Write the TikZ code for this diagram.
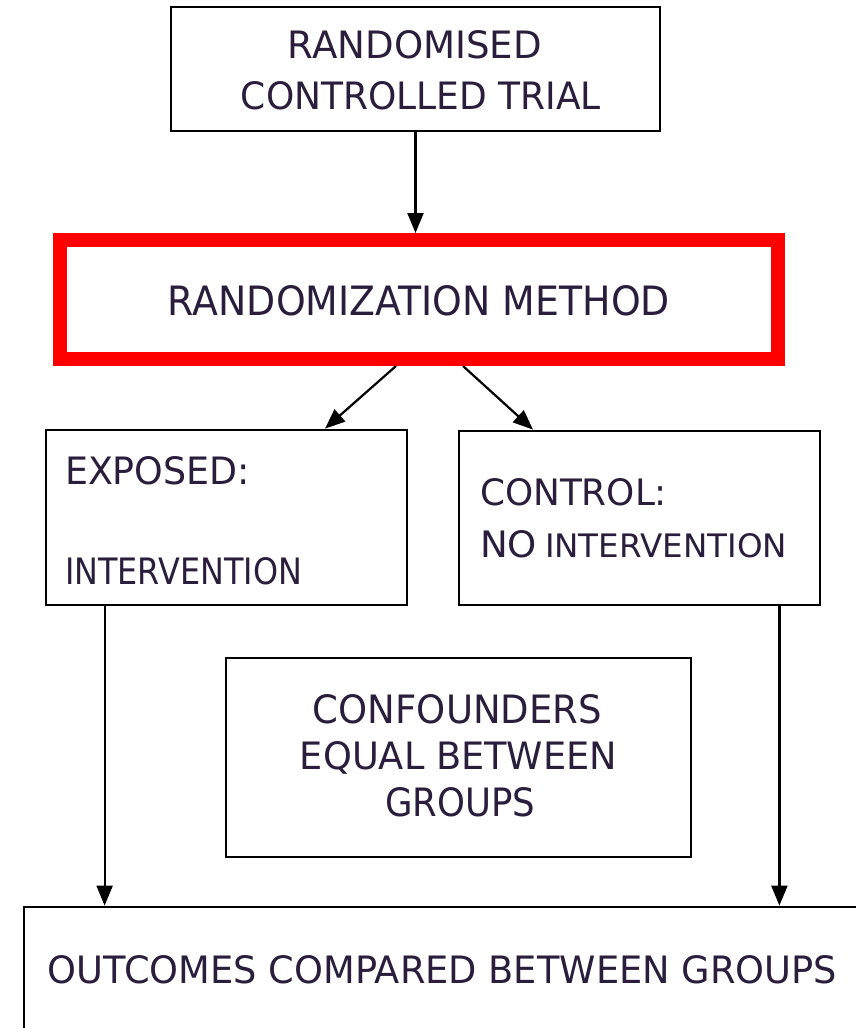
\documentclass[tikz,border=0pt]{standalone}
\usepackage{fontspec}
\setmainfont{DejaVu Sans}
\usetikzlibrary{arrows.meta,calc}
\definecolor{ink}{HTML}{2A1E3C}
\definecolor{alert}{HTML}{FF0000}
% set an upper-case line to a given ink width and cap height (pt)
\newcommand\capline[3]{\resizebox{#1pt}{#2pt}{#3}}
\begin{document}
\begin{tikzpicture}[x=1pt,y=-1pt,
  box/.style={draw=black,line width=2.8pt,fill=white,inner sep=0pt},
  redbox/.style={draw=alert,line width=14pt,fill=white,inner sep=0pt},
  lbl/.style={inner sep=0pt,outer sep=0pt,text=ink},
  arr/.style={draw=black,line width=2.2pt,-{Triangle[length=20pt,width=16pt]}}]
\useasboundingbox (0,0) rectangle (856,1028);
\clip (0,0) rectangle (856,1028);
\fill[white] (0,0) rectangle (856,1028);

% boxes
\node[box,minimum width=489pt,minimum height=124pt] (rct) at (415.5,69) {};
\node[redbox,minimum width=718pt,minimum height=119pt] (rnd) at (419,299.5) {};
\node[box,minimum width=361pt,minimum height=175pt] (exp) at (226.5,517.5) {};
\node[box,minimum width=361pt,minimum height=174pt] (ctl) at (639.5,518) {};
\node[box,minimum width=465pt,minimum height=199pt] (cnf) at (458.5,757.5) {};
\node[box,minimum width=880pt,minimum height=200pt] (out) at (464,1007) {};

% labels
\node[lbl,anchor=base] (t1) at (415,58) {\capline{254}{28}{RANDOMISED}};
\node[lbl,anchor=base] (t2) at (421,109) {\capline{360}{28}{CONTROLLED TRIAL}};
\node[lbl,anchor=base] (t3) at (419,315) {\capline{502}{30}{RANDOMIZATION METHOD}};
\node[lbl,anchor=base west] (t4) at (65,484) {\capline{185}{28}{EXPOSED:}};
\node[lbl,anchor=base west] (t5) at (65,584) {\capline{237}{27}{INTERVENTION}};
\node[lbl,anchor=base west] (t6) at (480,505) {\capline{187}{27}{CONTROL:}};
\node[lbl,anchor=base west] (t7) at (480,557) {\capline{57}{27}{NO}};
\node[lbl,anchor=base west] (t8) at (545,557) {\capline{242}{24}{INTERVENTION}};
\node[lbl,anchor=base] (t9) at (457.5,723) {\capline{289}{29}{CONFOUNDERS}};
\node[lbl,anchor=base] (t10) at (458.5,769) {\capline{317}{28}{EQUAL BETWEEN}};
\node[lbl,anchor=base] (t11) at (460,816) {\capline{150}{29}{GROUPS}};
\node[lbl,anchor=base] (t12) at (442.5,983) {\capline{789}{28}{OUTCOMES COMPARED BETWEEN GROUPS}};

% connector end points on the lower edges of the two group boxes
\coordinate (eo) at ($(exp.south west)+(60,0)$);
\coordinate (co) at ($(ctl.south east)+(-42,0)$);

% connectors
\draw[arr] (rct.south) -- (rct.south |- rnd.north);
\draw[arr] ($(rnd.south)+(-23,0)$) -- ($(exp.north)+(98.5,0)$);
\draw[arr] ($(rnd.south)+(44,0)$) -- ($(ctl.north)+(-106.5,0)$);
\draw[arr] (eo) -- (eo |- out.north);
\draw[arr] (co) -- (co |- out.north);
\end{tikzpicture}
\end{document}
